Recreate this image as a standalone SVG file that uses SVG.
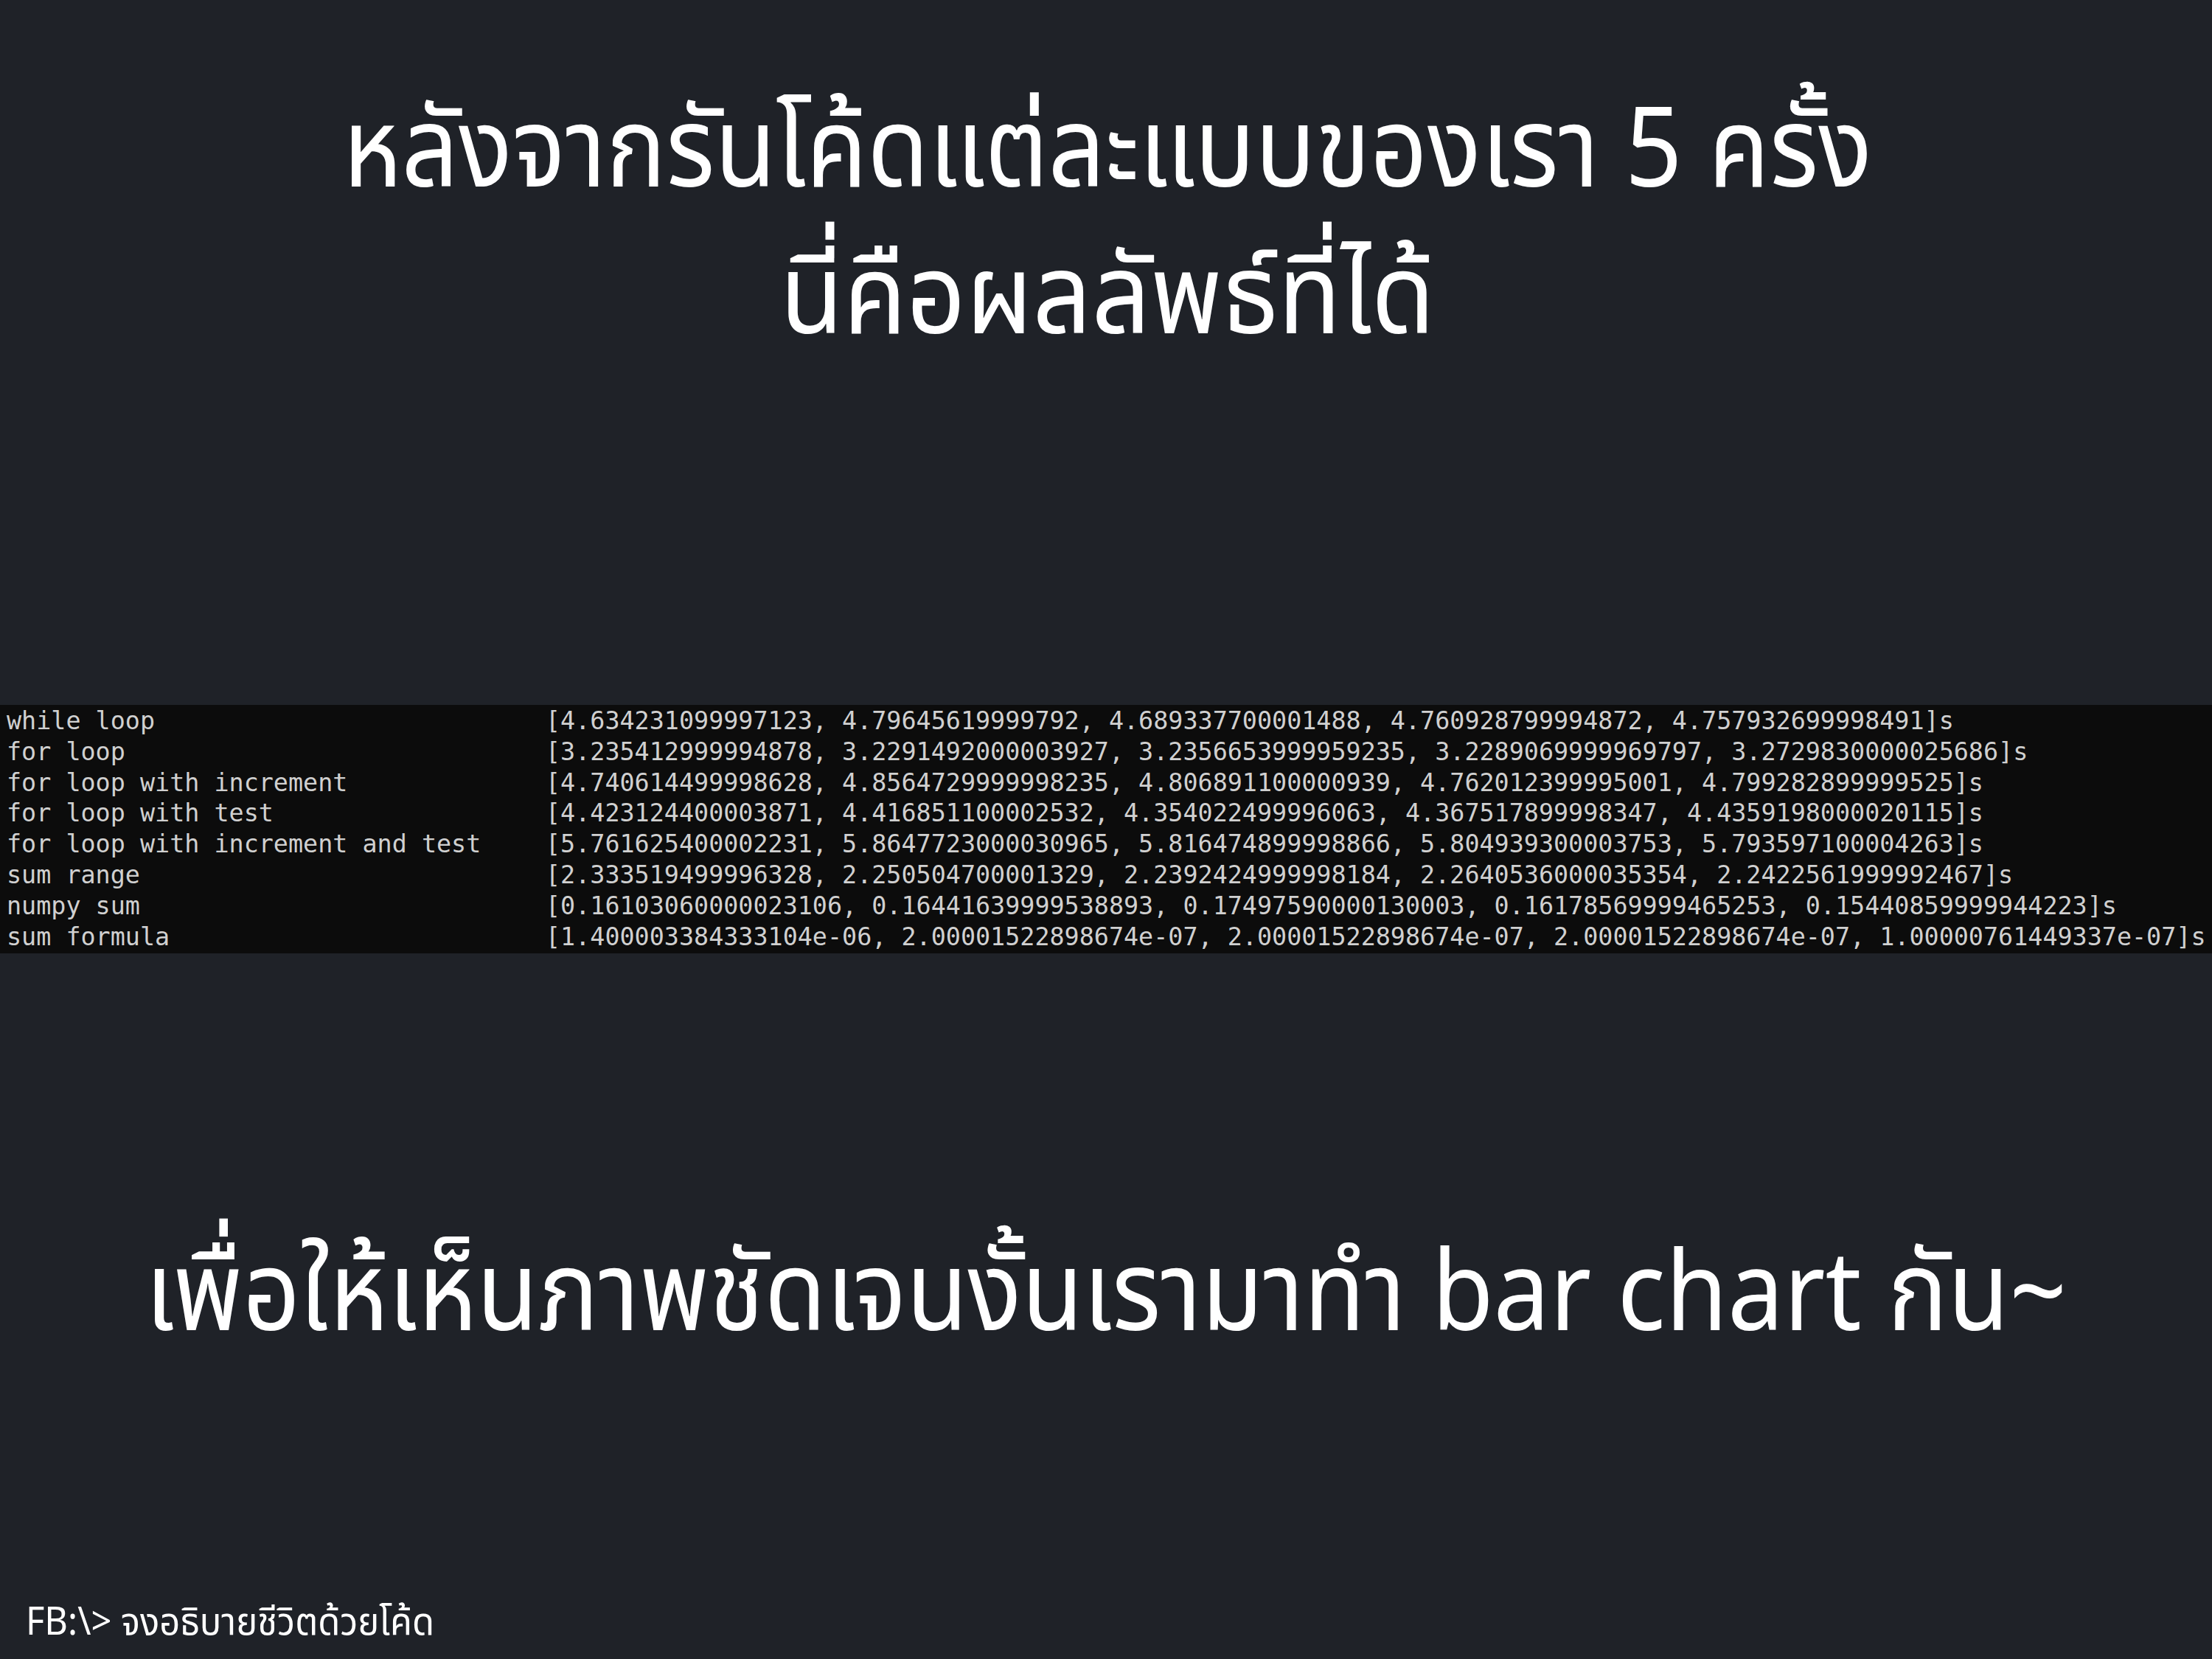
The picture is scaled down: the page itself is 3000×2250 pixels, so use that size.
<svg xmlns="http://www.w3.org/2000/svg" width="3000" height="2250" viewBox="0 0 3000 2250">
<style>
.bg{fill:#1f2228}
.term{fill:#0c0c0c}
.th{font-family:"Noto Sans Thai","Noto Sans","DejaVu Sans",sans-serif;fill:#ffffff}
.title{font-size:150px;text-anchor:middle}
.foot{font-size:52px}
.mono{font-family:"DejaVu Sans Mono","Liberation Mono",monospace;font-size:33.4px;fill:#d0d0d0}
</style>
<rect class="bg" x="0" y="0" width="3000" height="2250"/>
<g id="title">
<text class="th title" x="1502" y="253" textLength="2074" lengthAdjust="spacingAndGlyphs">หลังจากรันโค้ดแต่ละแบบของเรา 5 ครั้ง</text>
<text class="th title" x="1502" y="452" textLength="888" lengthAdjust="spacingAndGlyphs">นี่คือผลลัพธ์ที่ได้</text>
</g>
<g id="terminal">
<rect class="term" x="0" y="956" width="3000" height="337"/>
<text class="mono" x="9" y="989">while loop</text>
<text class="mono" x="9" y="1031">for loop</text>
<text class="mono" x="9" y="1073">for loop with increment</text>
<text class="mono" x="9" y="1114">for loop with test</text>
<text class="mono" x="9" y="1156">for loop with increment and test</text>
<text class="mono" x="9" y="1198">sum range</text>
<text class="mono" x="9" y="1240">numpy sum</text>
<text class="mono" x="9" y="1282">sum formula</text>
<text class="mono" x="740" y="989">[4.634231099997123, 4.79645619999792, 4.689337700001488, 4.760928799994872, 4.757932699998491]s</text>
<text class="mono" x="740" y="1031">[3.235412999994878, 3.2291492000003927, 3.2356653999959235, 3.2289069999969797, 3.2729830000025686]s</text>
<text class="mono" x="740" y="1073">[4.740614499998628, 4.8564729999998235, 4.806891100000939, 4.762012399995001, 4.799282899999525]s</text>
<text class="mono" x="740" y="1114">[4.423124400003871, 4.416851100002532, 4.354022499996063, 4.367517899998347, 4.4359198000020115]s</text>
<text class="mono" x="740" y="1156">[5.761625400002231, 5.8647723000030965, 5.816474899998866, 5.804939300003753, 5.793597100004263]s</text>
<text class="mono" x="740" y="1198">[2.333519499996328, 2.250504700001329, 2.2392424999998184, 2.2640536000035354, 2.2422561999992467]s</text>
<text class="mono" x="740" y="1240">[0.16103060000023106, 0.16441639999538893, 0.17497590000130003, 0.16178569999465253, 0.15440859999944223]s</text>
<text class="mono" x="740" y="1282">[1.400003384333104e-06, 2.00001522898674e-07, 2.00001522898674e-07, 2.00001522898674e-07, 1.00000761449337e-07]s</text>
</g>
<g id="caption">
<text class="th title" x="1500" y="1804" textLength="2606" lengthAdjust="spacingAndGlyphs">เพื่อให้เห็นภาพชัดเจนงั้นเรามาทำ bar chart กัน~</text>
</g>
<g id="footer">
<text class="th foot" x="35" y="2217" textLength="554" lengthAdjust="spacingAndGlyphs">FB:\&gt; จงอธิบายชีวิตด้วยโค้ด</text>
</g>
</svg>
